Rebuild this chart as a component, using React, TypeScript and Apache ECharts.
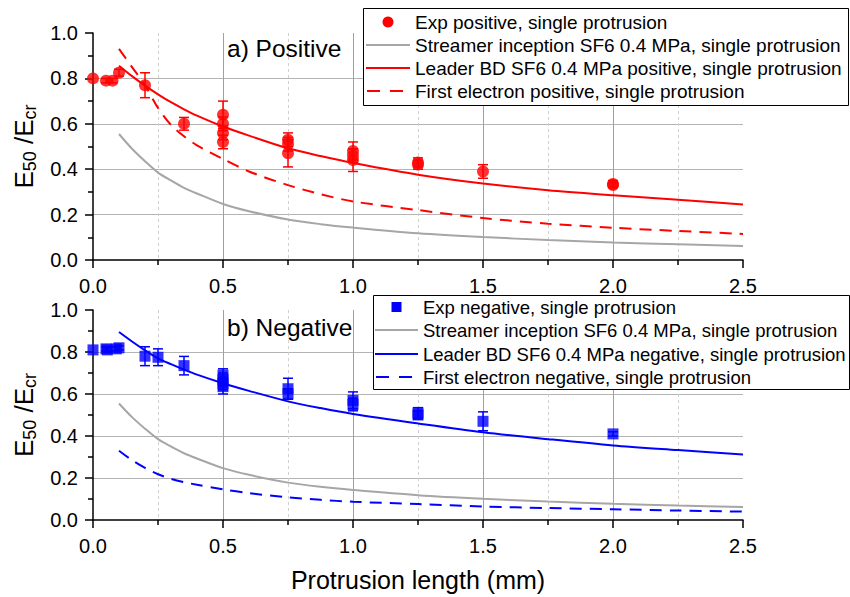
import React, { useEffect, useRef } from "react";
import * as echarts from "echarts";

const FONT = "'Liberation Sans', Arial, sans-serif";

// model curves share x positions
const curveX = [0.1, 0.15, 0.2, 0.25, 0.3, 0.35, 0.4, 0.5, 0.6, 0.75, 0.875, 1.0, 1.25, 1.5, 1.75, 2.0, 2.25, 2.5];
const streamerY = [0.555, 0.49, 0.435, 0.385, 0.35, 0.318, 0.293, 0.247, 0.215, 0.178, 0.158, 0.143, 0.118, 0.101, 0.088, 0.077, 0.069, 0.062];
const leaderPosY = [0.856, 0.81, 0.768, 0.73, 0.695, 0.664, 0.636, 0.588, 0.548, 0.492, 0.458, 0.428, 0.376, 0.337, 0.307, 0.285, 0.265, 0.245];
const firstElPosY = [0.93, 0.85, 0.77, 0.67, 0.595, 0.545, 0.505, 0.445, 0.39, 0.33, 0.29, 0.258, 0.22, 0.185, 0.16, 0.142, 0.128, 0.115];
const leaderNegY = [0.895, 0.85, 0.808, 0.77, 0.742, 0.716, 0.692, 0.651, 0.615, 0.565, 0.533, 0.505, 0.46, 0.418, 0.385, 0.355, 0.333, 0.312];
const firstElNegY = [0.33, 0.285, 0.248, 0.218, 0.196, 0.18, 0.168, 0.146, 0.128, 0.108, 0.096, 0.087, 0.076, 0.064, 0.057, 0.051, 0.045, 0.04];

// experimental points: x, y, error
const expPosX = [0, 0.05, 0.075, 0.1, 0.2, 0.35, 0.5, 0.5, 0.5, 0.5, 0.75, 0.75, 0.75, 1.0, 1.0, 1.0, 1.25, 1.25, 1.5, 2.0, 2.0];
const expPosY = [0.8, 0.79, 0.79, 0.825, 0.77, 0.6, 0.64, 0.6, 0.56, 0.52, 0.53, 0.51, 0.47, 0.48, 0.46, 0.44, 0.43, 0.42, 0.39, 0.335, 0.33];
const expPosErr = [0, 0.01, 0.01, 0.015, 0.055, 0.028, 0.06, 0.03, 0.03, 0.03, 0.03, 0.03, 0.06, 0.04, 0.03, 0.05, 0.02, 0.02, 0.03, 0.015, 0.01];

const expNegX = [0, 0.05, 0.055, 0.09, 0.1, 0.2, 0.25, 0.35, 0.5, 0.5, 0.5, 0.5, 0.75, 0.75, 1.0, 1.0, 1.25, 1.25, 1.5, 2.0];
const expNegY = [0.81, 0.815, 0.81, 0.815, 0.82, 0.78, 0.775, 0.735, 0.69, 0.67, 0.65, 0.635, 0.625, 0.6, 0.57, 0.55, 0.51, 0.5, 0.47, 0.41];
const expNegErr = [0, 0.01, 0.01, 0.01, 0.01, 0.045, 0.04, 0.044, 0.03, 0.03, 0.03, 0.035, 0.05, 0.025, 0.04, 0.03, 0.025, 0.02, 0.045, 0.01];

const xTicks = { min: 0, max: 2.5, interval: 0.5 };
const yTicks = { min: 0, max: 1, interval: 0.2 };

const N_EXP_POS = "Exp positive, single protrusion";
const N_STREAMER = "Streamer inception SF6 0.4 MPa, single protrusion";
const N_LEAD_POS = "Leader BD SF6 0.4 MPa positive, single protrusion";
const N_FE_POS = "First electron positive, single protrusion";
const N_EXP_NEG = "Exp negative, single protrusion";
const N_LEAD_NEG = "Leader BD SF6 0.4 MPa negative, single protrusion";
const N_FE_NEG = "First electron negative, single protrusion";

const RED = "#ff0000";
const BLUE = "#0000ff";
const GRAY = "#a6a6a6";

function zip(xs: number[], ys: number[]) {
  return xs.map((x, i) => [x, ys[i]]);
}

function errBars(color: string, xs: number[], ys: number[], es: number[], idx: number) {
  return {
    type: "custom",
    xAxisIndex: idx,
    yAxisIndex: idx,
    z: 2,
    silent: true,
    data: xs.map((x, i) => [x, ys[i], es[i]]),
    encode: { x: 0, y: 1 },
    renderItem: (params: any, api: any) => {
      const x = api.value(0);
      const y = api.value(1);
      const e = api.value(2);
      if (!e) return null;
      const hi = api.coord([x, y + e]);
      const lo = api.coord([x, y - e]);
      const w = 5;
      const st = { stroke: color, lineWidth: 1.5 };
      return {
        type: "group",
        children: [
          { type: "line", shape: { x1: hi[0], y1: hi[1], x2: lo[0], y2: lo[1] }, style: st },
          { type: "line", shape: { x1: hi[0] - w, y1: hi[1], x2: hi[0] + w, y2: hi[1] }, style: st },
          { type: "line", shape: { x1: lo[0] - w, y1: lo[1], x2: lo[0] + w, y2: lo[1] }, style: st },
        ],
      };
    },
  };
}

function lineSeries(name: string, color: string, ys: number[], idx: number, dashed: boolean) {
  return {
    type: "line",
    name,
    xAxisIndex: idx,
    yAxisIndex: idx,
    data: zip(curveX, ys),
    symbol: "none",
    smooth: 0.3,
    z: 3,
    lineStyle: { color, width: 2, type: dashed ? [12, 8] : "solid" },
    itemStyle: { color },
  };
}

function xAxis(idx: number, withName: boolean) {
  return {
    type: "value",
    gridIndex: idx,
    ...xTicks,
    name: withName ? "Protrusion length (mm)" : "",
    nameLocation: "middle",
    nameGap: 47,
    nameTextStyle: { fontSize: 25, color: "#000", fontFamily: FONT },
    axisLine: { show: true, onZero: false, lineStyle: { color: "#000", width: 1.5 } },
    axisTick: { show: true, length: 8, lineStyle: { color: "#000", width: 1.5 } },
    minorTick: { show: true, splitNumber: 2, length: 5, lineStyle: { color: "#000", width: 1.5 } },
    axisLabel: { fontSize: 20, color: "#000", fontFamily: FONT, margin: 16, formatter: (v: number) => v.toFixed(1) },
    splitLine: { show: true, showMinLine: false, showMaxLine: false, lineStyle: { color: "#a0a0a0", width: 1 } },
    minorSplitLine: { show: true, lineStyle: { color: "#d0d0d0", width: 1, type: [3, 3] } },
  };
}

function yAxis(idx: number) {
  return {
    type: "value",
    gridIndex: idx,
    ...yTicks,
    name: "{m|E}{s|50}{m| /E}{s|cr}",
    nameLocation: "middle",
    nameRotate: 90,
    nameGap: 47,
    nameTextStyle: {
      color: "#000",
      fontFamily: FONT,
      rich: {
        m: { fontSize: 26, fontFamily: FONT, color: "#000", lineHeight: 30 },
        s: { fontSize: 18, fontFamily: FONT, color: "#000", lineHeight: 17, verticalAlign: "bottom" },
      },
    },
    axisLine: { show: true, onZero: false, lineStyle: { color: "#000", width: 1.5 } },
    axisTick: { show: true, length: 8, lineStyle: { color: "#000", width: 1.5 } },
    minorTick: { show: true, splitNumber: 2, length: 5, lineStyle: { color: "#000", width: 1.5 } },
    axisLabel: { fontSize: 20, color: "#000", fontFamily: FONT, margin: 15, formatter: (v: number) => v.toFixed(1) },
    splitLine: { show: true, showMinLine: false, showMaxLine: false, lineStyle: { color: "#b4b4b4", width: 1 } },
    minorSplitLine: { show: false },
  };
}

type LegendItem = { name: string; kind: "circle" | "square" | "line" | "dash"; color: string };

function legendGraphic(
  items: LegendItem[],
  box: { x: number; y: number; w: number; h: number },
  rows: number[],
  iconX: number,
  textX: number,
  fontSize: number
) {
  const children: any[] = [
    {
      type: "rect",
      z: 100,
      shape: { x: box.x + 0.5, y: box.y + 0.5, width: box.w, height: box.h },
      style: { fill: "#fff", stroke: "#000", lineWidth: 1 },
    },
  ];
  items.forEach((it, i) => {
    const cy = rows[i];
    const mid = (iconX + textX - 5) / 2;
    if (it.kind === "circle") {
      children.push({ type: "circle", z: 101, shape: { cx: mid, cy, r: 5.5 }, style: { fill: it.color } });
    } else if (it.kind === "square") {
      children.push({ type: "rect", z: 101, shape: { x: mid - 5, y: cy - 5, width: 10, height: 10 }, style: { fill: it.color } });
    } else if (it.kind === "line") {
      children.push({ type: "line", z: 101, shape: { x1: iconX, y1: cy, x2: textX - 5, y2: cy }, style: { stroke: it.color, lineWidth: 2 } });
    } else {
      children.push({
        type: "line",
        z: 101,
        shape: { x1: iconX + 1, y1: cy, x2: iconX + 37, y2: cy },
        style: { stroke: it.color, lineWidth: 2, lineDash: [13, 10] },
      });
    }
    children.push({
      type: "text",
      z: 101,
      x: textX,
      y: cy,
      style: { text: it.name, fontSize, fontFamily: FONT, fill: "#000", verticalAlign: "middle" },
    });
  });
  return { type: "group", children };
}

export default function App() {
  const ref = useRef<HTMLDivElement>(null);
  useEffect(() => {
    if (!ref.current) return;
    const chart = echarts.init(ref.current, undefined, { renderer: "svg" });
    const posItems: LegendItem[] = [
      { name: N_EXP_POS, kind: "circle", color: RED },
      { name: N_STREAMER, kind: "line", color: GRAY },
      { name: N_LEAD_POS, kind: "line", color: RED },
      { name: N_FE_POS, kind: "dash", color: RED },
    ];
    const negItems: LegendItem[] = [
      { name: N_EXP_NEG, kind: "square", color: BLUE },
      { name: N_STREAMER, kind: "line", color: GRAY },
      { name: N_LEAD_NEG, kind: "line", color: BLUE },
      { name: N_FE_NEG, kind: "dash", color: BLUE },
    ];
    chart.setOption({
      animation: false,
      backgroundColor: "#fff",
      textStyle: { fontFamily: FONT },
      grid: [
        { left: 93, top: 33, width: 650, height: 227 },
        { left: 93, top: 310, width: 650, height: 210 },
      ],
      xAxis: [xAxis(0, false), xAxis(1, true)],
      yAxis: [yAxis(0), yAxis(1)],
      graphic: [
        { type: "text", x: 227, y: 48, z: 10, style: { text: "a) Positive", fontSize: 24.5, fontFamily: FONT, fill: "#000", verticalAlign: "middle" } },
        { type: "text", x: 227, y: 327, z: 10, style: { text: "b) Negative", fontSize: 24.5, fontFamily: FONT, fill: "#000", verticalAlign: "middle" } },
        legendGraphic(posItems, { x: 363, y: 8, w: 485, h: 97 }, [22, 45, 68, 91], 366, 415, 19),
        legendGraphic(negItems, { x: 373, y: 295, w: 476, h: 94 }, [307, 330, 354, 377], 375, 423, 18.5),
      ],
      series: [
        errBars(RED, expPosX, expPosY, expPosErr, 0),
        {
          type: "scatter",
          name: N_EXP_POS,
          xAxisIndex: 0,
          yAxisIndex: 0,
          symbol: "circle",
          symbolSize: 12,
          z: 4,
          itemStyle: { color: RED },
          data: zip(expPosX, expPosY),
        },
        lineSeries(N_STREAMER, GRAY, streamerY, 0, false),
        lineSeries(N_LEAD_POS, RED, leaderPosY, 0, false),
        lineSeries(N_FE_POS, RED, firstElPosY, 0, true),
        errBars(BLUE, expNegX, expNegY, expNegErr, 1),
        {
          type: "scatter",
          name: N_EXP_NEG,
          xAxisIndex: 1,
          yAxisIndex: 1,
          symbol: "rect",
          symbolSize: 11,
          z: 4,
          itemStyle: { color: BLUE },
          data: zip(expNegX, expNegY),
        },
        lineSeries(N_STREAMER, GRAY, streamerY, 1, false),
        lineSeries(N_LEAD_NEG, BLUE, leaderNegY, 1, false),
        lineSeries(N_FE_NEG, BLUE, firstElNegY, 1, true),
      ],
    });
    return () => chart.dispose();
  }, []);
  return <div ref={ref} style={{ position: "fixed", left: 0, top: 0, width: 850, height: 597 }} />;
}
